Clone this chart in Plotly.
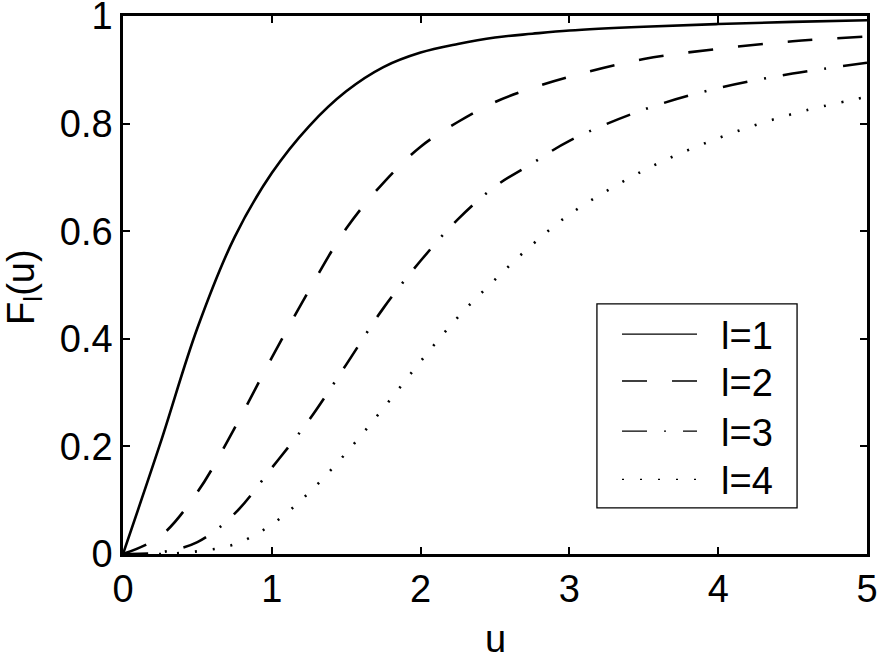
import plotly.graph_objects as go

u = [0, 0.25, 0.5, 0.75, 1.0, 1.25, 1.5, 1.75, 2.0, 2.25, 2.5, 2.75, 3.0, 3.5, 4.0, 4.5, 5.0]
F1 = [0, 0.205, 0.42, 0.589, 0.708, 0.795, 0.86, 0.905, 0.932, 0.948, 0.960, 0.967, 0.973, 0.980, 0.985, 0.989, 0.992]
F2 = [0, 0.033, 0.115, 0.234, 0.365, 0.49, 0.605, 0.69, 0.757, 0.803, 0.84, 0.866, 0.887, 0.92, 0.939, 0.953, 0.962]
F3 = [0, 0.003, 0.022, 0.075, 0.16, 0.249, 0.352, 0.457, 0.545, 0.622, 0.683, 0.726, 0.768, 0.826, 0.866, 0.893, 0.913]
F4 = [0, 0.0, 0.005, 0.018, 0.055, 0.114, 0.188, 0.271, 0.358, 0.44, 0.51, 0.575, 0.631, 0.713, 0.773, 0.818, 0.85]

names = ["l=1", "l=2", "l=3", "l=4"]
series = [F1, F2, F3, F4]
dashes = ["solid", "25px,25px", "25px,17px,2px,17px", "2px,16px"]
legend_ids = ["legend", "legend2", "legend3", "legend4"]
legend_y = [0.408, 0.321, 0.228, 0.138]   # paper-y of each legend row

FONT = "Liberation Sans, Arial, Helvetica, sans-serif"

fig = go.Figure()
for name, ys, d in zip(names, series, dashes):
    fig.add_trace(go.Scatter(
        x=u, y=ys, mode="lines", name=name, showlegend=False,
        line=dict(color="black", width=2.6, dash=d, shape="spline", smoothing=1.0),
        hoverinfo="skip",
    ))
# legend entries with thin lines, one legend per row
for name, d, lid in zip(names, dashes, legend_ids):
    fig.add_trace(go.Scatter(
        x=[None], y=[None], mode="lines", name="\u2002" + name, showlegend=True,
        legend=lid, line=dict(color="black", width=1.3, dash=d),
    ))

axis_common = dict(
    showline=True, linecolor="black", linewidth=2.5, mirror="ticks",
    ticks="inside", ticklen=7, tickwidth=2, tickcolor="black",
    showgrid=False, zeroline=False, automargin=False,
    ticklabeloverflow="allow",
    tickfont=dict(family=FONT, size=38, color="black"),
)

legend_common = dict(
    xanchor="left", yanchor="middle", bgcolor="rgba(0,0,0,0)",
    borderwidth=0, font=dict(family=FONT, size=38, color="black"),
    itemwidth=75,
)

layout_legends = {}
for lid, ly in zip(legend_ids, legend_y):
    layout_legends[lid] = dict(x=0.664, y=ly, **legend_common)

fig.update_layout(
    template="none",
    width=879, height=657,
    margin=dict(l=123, r=12, t=16, b=103),
    plot_bgcolor="white", paper_bgcolor="white",
    font=dict(family=FONT, size=38, color="black"),
    xaxis=dict(range=[0, 5], tickvals=[0, 1, 2, 3, 4, 5], **axis_common),
    yaxis=dict(range=[0, 1], tickvals=[0, 0.2, 0.4, 0.6, 0.8, 1],
               ticktext=["0", "0.2", "0.4", "0.6", "0.8", "1"],
               **axis_common),
    annotations=[
        dict(text="F<sub>l</sub>(u)", textangle=-90,
             xref="paper", yref="paper", x=0, y=0.5,
             xanchor="left", yanchor="middle",
             xshift=-125, yshift=-2, showarrow=False,
             font=dict(family=FONT, size=38, color="black")),
        dict(text="u", xref="paper", yref="paper", x=0.5, y=0,
             xanchor="center", yanchor="top", yshift=-62, showarrow=False,
             font=dict(family=FONT, size=38, color="black")),
    ],
    showlegend=True,
    shapes=[dict(type="rect", xref="paper", yref="paper",
                 x0=0.637, x1=0.906, y0=0.0856, y1=0.465,
                 line=dict(color="black", width=1.3), fillcolor="white",
                 layer="below")],
    **layout_legends,
)

fig.write_html("out.html",
               config={"displayModeBar": False},
               post_script="document.body.style.margin='0';document.body.style.overflow='hidden';")
